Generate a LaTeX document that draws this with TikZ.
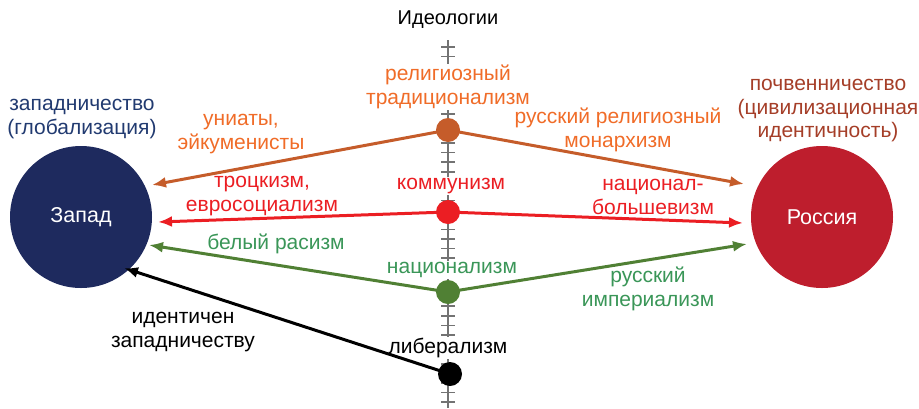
\documentclass[tikz,border=0pt]{standalone}
\usepackage{fontspec}
\setmainfont{Liberation Sans}
\usetikzlibrary{arrows.meta}
\definecolor{navy}{RGB}{30,42,94}
\definecolor{rus}{RGB}{190,30,45}
\definecolor{westtxt}{RGB}{33,58,112}
\definecolor{rustxt}{RGB}{165,62,40}
\definecolor{orline}{RGB}{197,92,42}
\definecolor{ortxt}{RGB}{240,108,40}
\definecolor{redl}{RGB}{235,30,35}
\definecolor{grline}{RGB}{80,128,52}
\definecolor{grtxt}{RGB}{58,150,88}
\definecolor{axgray}{RGB}{115,115,115}
\tikzset{
  lbl/.style={font=\fontsize{21}{23.5}\selectfont, align=center, inner sep=1pt, fill=white},
  conn/.style={line width=3pt, -{Latex[length=14pt,width=11pt]}},
  dotnode/.style={circle, minimum size=24pt, inner sep=0pt},
  bignode/.style={circle, minimum size=142pt, inner sep=0pt, text=white, font=\fontsize{21.5}{24}\selectfont}
}
\begin{document}
\begin{tikzpicture}[x=1pt,y=-1pt]
\useasboundingbox (0,0) rectangle (919,408);
% axis
\draw[axgray, line width=1.6pt] (448,40) -- (448,408);
\foreach \k in {0,...,37} {
  \draw[axgray, line width=1.6pt] (441,47+9.6*\k) -- (455,47+9.6*\k);
}
% circles
\node[bignode, fill=navy] (W) at (81,217) {Запад};
\node[bignode, fill=rus] (R) at (822,217) {Россия};
% coordinates
\coordinate (o) at (448,130);
\coordinate (r) at (448,212);
\coordinate (g) at (448,292);
\coordinate (b) at (450,374);
\coordinate (oL) at (152,185);
\coordinate (oR) at (744,184);
\coordinate (rL) at (158,222);
\coordinate (rR) at (743,223);
\coordinate (gL) at (149,245);
\coordinate (gR) at (747,244);
\coordinate (bL) at (124,268);
% labels
\node[lbl, font=\fontsize{20}{23}\selectfont] (t) at (448,20) {Идеологии};
\node[lbl, text=westtxt, fill=none] (wt) at (82,119) {западничество\\(глобализация)};
\node[lbl, text=rustxt, fill=none] (rt) at (828,111) {почвенничество\\(цивилизационная\\идентичность)};
\node[lbl, text=ortxt] (ot) at (448,87) {религиозный\\традиционализм};
\node[lbl, text=ortxt, fill=none] (oLt) at (241,134) {униаты,\\эйкуменисты};
\node[lbl, text=ortxt, fill=none] (oRt) at (618,130) {русский религиозный\\монархизм};
\node[lbl, text=redl] (rt2) at (451,186) {коммунизм};
\node[lbl, text=redl, fill=none] (rLt) at (262,196) {троцкизм,\\евросоциализм};
\node[lbl, text=redl, fill=none] (rRt) at (653,197) {национал-\\большевизм};
\node[lbl, text=grtxt] (gt) at (452,270) {национализм};
\node[lbl, text=grtxt, fill=none] (gLt) at (276,244) {белый расизм};
\node[lbl, text=grtxt, fill=none] (gRt) at (648,289) {русский\\империализм};
\node[lbl] (bt) at (448,348) {либерализм};
\node[lbl, fill=none] (bLt) at (183,332) {идентичен\\западничеству};
% connectors
\draw[conn, orline] (o) -- (oL);
\draw[conn, orline] (o) -- (oR);
\draw[conn, redl] (r) -- (rL);
\draw[conn, redl] (r) -- (rR);
\draw[conn, grline] (g) -- (gL);
\draw[conn, grline] (g) -- (gR);
\draw[conn, black] (b) -- (bL);
% dots
\node[dotnode, fill=orline] (od) at (o) {};
\node[dotnode, fill=redl] (rd) at (r) {};
\node[dotnode, fill=grline] (gd) at (g) {};
\node[dotnode, fill=black] (bd) at (b) {};
\end{tikzpicture}
\end{document}
